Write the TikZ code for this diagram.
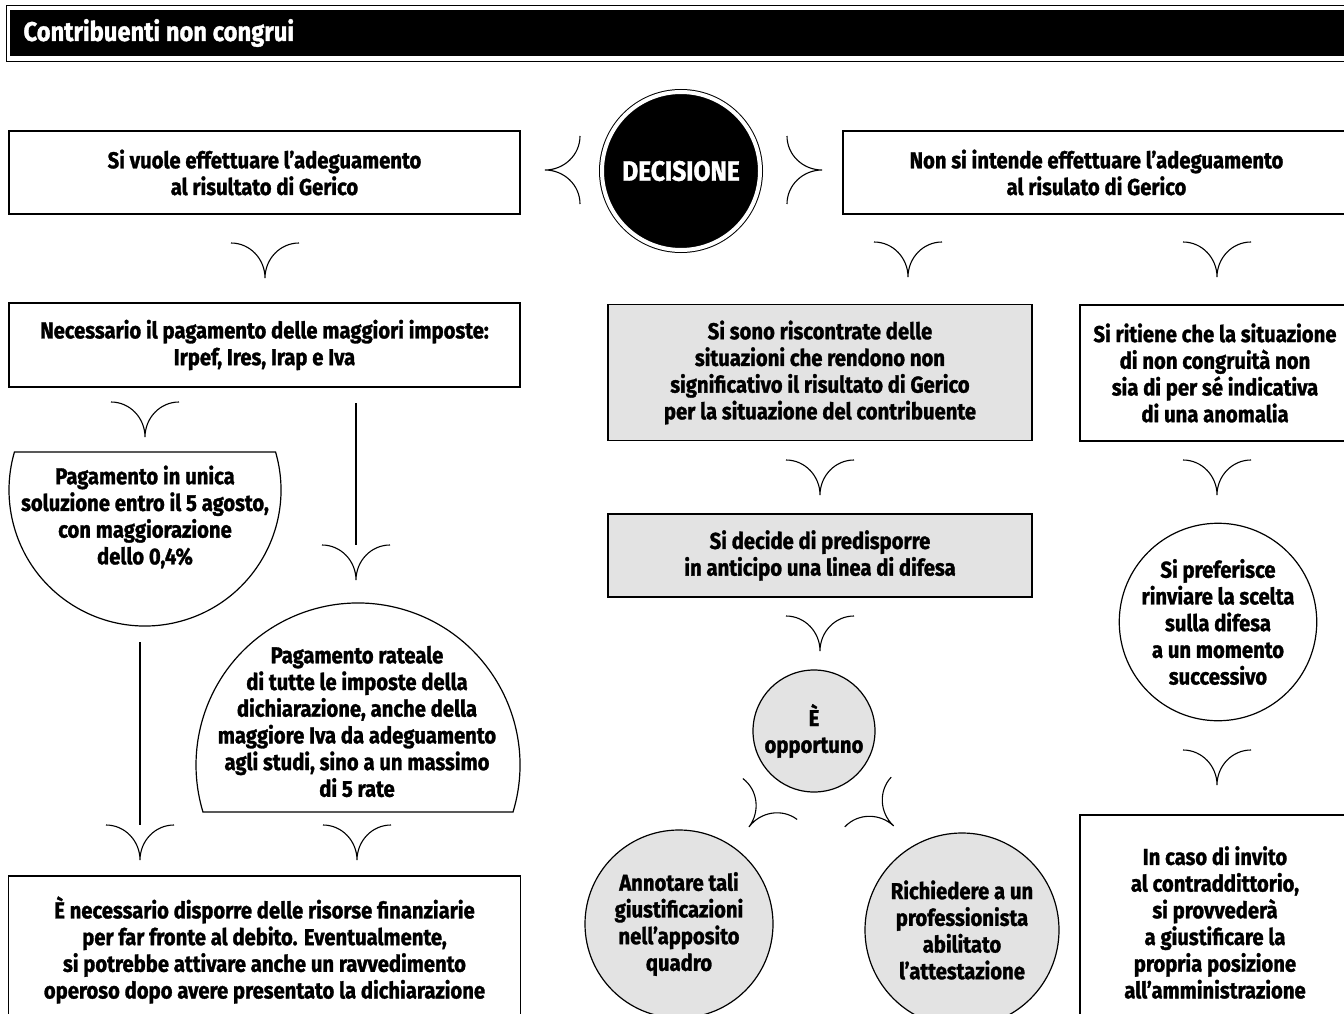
\documentclass[tikz,border=0pt]{standalone}
\usepackage{fontspec}
\setmainfont{Fira Sans}[FakeStretch=0.88,BoldFeatures={FakeBold=1.3}]
\usetikzlibrary{positioning}
\newcommand{\corpo}{\fontsize{23}{26.7}\selectfont\bfseries}

\begin{document}
\begin{tikzpicture}[x=1pt,y=1pt,
  box/.style={draw,line width=1.2pt,inner sep=0pt,outer sep=0pt,align=center,font=\corpo},
  grigio/.style={fill=black!11},
  tondo/.style={circle,draw,line width=1.2pt,inner sep=0pt,outer sep=0pt,align=center,font=\corpo},
  testo/.style={inner sep=0pt,align=center,font=\corpo},
  linea/.style={line width=1.1pt},
  chev/.pic={\draw[line width=1.1pt] (-34,0) .. controls (-15,0) and (0,-16) .. (0,-35) .. controls (0,-16) and (15,0) .. (34,0) ;}]
\path[use as bounding box,clip] (0,0) rectangle (1344,-1014) ;
\draw[line width=0.8pt] (6,-5) rectangle (1350,-61) ;
\fill (10,-10) rectangle (1350,-56) ;
\node (titolo) [anchor=west,text=white,font=\fontsize{27}{30}\selectfont\bfseries] at (20,-33) {Contribuenti non congrui} ;
\node (si) [box,minimum width=511pt,minimum height=83pt] at (264.5,-172.5) {Si vuole effettuare l’adeguamento\\al risultato di Gerico} ;
\node (dec) [circle,fill=black,draw=black,double=white,double distance=4pt,line width=1pt,minimum size=158pt,inner sep=0pt,outer sep=0pt,text=white,font=\fontsize{28}{30}\selectfont\bfseries] at (681,-171) {DECISIONE} ;
\node (no) [box,minimum width=507pt,minimum height=83pt] at (1096.5,-172.5) {Non si intende effettuare l’adeguamento\\al risulato di Gerico} ;
\node (nec) [box,minimum width=511pt,minimum height=84pt] at (264.5,-345) {Necessario il pagamento delle maggiori imposte:\\Irpef, Ires, Irap e Iva} ;
\node (risc) [box,grigio,minimum width=424pt,minimum height=136pt] at (820,-372.5) {Si sono riscontrate delle\\situazioni che rendono non\\significativo il risultato di Gerico\\per la situazione del contribuente} ;
\node (ritiene) [box,minimum width=270pt,minimum height=136pt] at (1215,-373) {Si ritiene che la situazione\\di non congruità non\\sia di per sé indicativa\\di una anomalia} ;
\coordinate (unicaC) at (145,-490) ;
\draw[line width=1.2pt] (unicaC) ++(16.2:136) arc[start angle=16.2,end angle=-196.2,radius=136] -- cycle ;
\node (unica) [testo] at (145,-517) {Pagamento in unica\\soluzione entro il 5 agosto,\\con maggiorazione\\dello 0,4\%} ;
\coordinate (ratC) at (358,-765) ;
\draw[line width=1.2pt] (ratC) ++(-16.9:162) arc[start angle=-16.9,end angle=196.9,radius=162] -- cycle ;
\node (rateale) [testo] at (357,-721.5) {Pagamento rateale\\di tutte le imposte della\\dichiarazione, anche della\\maggiore Iva da adeguamento\\agli studi, sino a un massimo\\di 5 rate} ;
\node (risorse) [box,minimum width=512pt,minimum height=148pt] at (264.5,-950) {È necessario disporre delle risorse finanziarie\\per far fronte al debito. Eventualmente,\\si potrebbe attivare anche un ravvedimento\\operoso dopo avere presentato la dichiarazione} ;
\node (decide) [box,grigio,minimum width=424pt,minimum height=83pt] at (820,-555.5) {Si decide di predisporre\\in anticipo una linea di difesa} ;
\node (opp) [tondo,grigio,minimum size=122pt] at (814,-731) {È\\opportuno} ;
\node (annot) [tondo,grigio,minimum size=188pt] at (679,-924) {Annotare tali\\giustificazioni\\nell’apposito\\quadro} ;
\node (richiedi) [tondo,grigio,minimum size=194pt] at (962,-930) {Richiedere a un\\professionista\\abilitato\\l’attestazione} ;
\node (pref) [tondo,minimum size=196pt] at (1218,-622) {Si preferisce\\rinviare la scelta\\sulla difesa\\a un momento\\successivo} ;
\node (invito) [box,minimum width=270pt,minimum height=215pt] at (1215,-922.5) {In caso di invito\\al contraddittorio,\\si provvederà\\a giustificare la\\propria posizione\\all’amministrazione} ;
\coordinate (l1a) at (356,-403) ;
\coordinate (l1b) at (356,-545) ;
\coordinate (l2a) at (140,-642) ;
\coordinate (l2b) at (140,-825) ;
\draw[linea] (l1a) to (l1b) ;
\draw[linea] (l2a) to (l2b) ;
\pic[rotate=-90] at (580,-170) {chev} ;
\pic[rotate=90] at (787,-170) {chev} ;
\pic at (265,-243) {chev} ;
\pic at (908,-242) {chev} ;
\pic at (1217,-242) {chev} ;
\pic at (145,-402) {chev} ;
\pic at (l1b) {chev} ;
\pic at (l2b) {chev} ;
\pic at (357,-825) {chev} ;
\pic at (820,-460) {chev} ;
\pic at (820,-616) {chev} ;
\pic at (1217,-460) {chev} ;
\pic at (1217,-750) {chev} ;
\pic[rotate=-37] at (770,-799) {chev} ;
\pic[rotate=47] at (868,-802) {chev} ;
\end{tikzpicture}
\end{document}
